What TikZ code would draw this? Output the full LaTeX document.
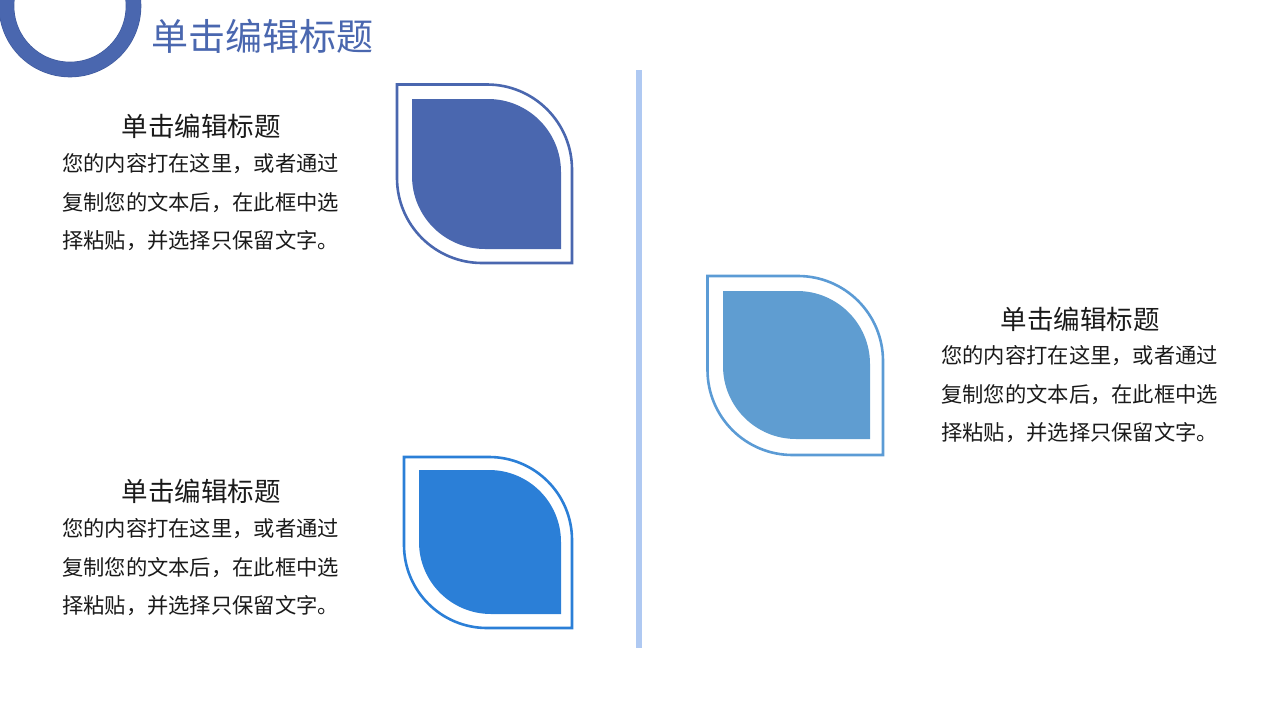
\documentclass[tikz,border=0pt]{standalone}
\usepackage{fontspec}
\setmainfont{Noto Sans CJK SC}
\usepackage{xcolor}
\definecolor{navy}{HTML}{4A67AF}
\definecolor{navyedge}{HTML}{3F5A9C}
\definecolor{steel}{HTML}{5B9BD5}
\definecolor{steelfill}{HTML}{5F9DD1}
\definecolor{azure}{HTML}{2B7FD7}
\definecolor{paleblue}{HTML}{AFC9F2}
\definecolor{ink}{HTML}{1A1A1A}
\tikzset{
  heading/.style={font=\fontsize{26.5}{30}\selectfont,text=ink,inner sep=0pt},
  bodyline/.style={font=\fontsize{21.3}{24}\selectfont,text=ink,inner sep=0pt,anchor=west},
  rim/.style={line width=2.6pt}
}

\begin{document}
\begin{tikzpicture}[x=1pt,y=-1pt]
\useasboundingbox (0,0) rectangle (1280,720);
\clip (0,0) rectangle (1280,720);
% corner ring and title
\draw[navyedge,line width=15.6pt] (70,6) circle[radius=63.5];
\draw[navy,line width=14.4pt] (70,6) circle[radius=63.5];
\node[anchor=west,inner sep=0pt,text=navy,font=\fontsize{37}{40}\selectfont] (maintitle) at (151,36) {单击编辑标题};
% divider
\draw[paleblue,line width=6pt] (639,70) -- (639,648);
% leaf 1
\draw[navy,rim] (397,84.5) -- (487,84.5) arc[start angle=-90,end angle=0,radius=85] -- (572,263) -- (482,263) arc[start angle=90,end angle=180,radius=85] -- cycle;
\fill[navy] (412,99) -- (488,99) arc[start angle=-90,end angle=0,radius=73] -- (561,249) -- (485,249) arc[start angle=90,end angle=180,radius=73] -- cycle;
% leaf 2
\draw[steel,rim] (707.5,276) -- (798,276) arc[start angle=-90,end angle=0,radius=85] -- (883,455) -- (792.5,455) arc[start angle=90,end angle=180,radius=85] -- cycle;
\fill[steelfill] (723,291) -- (797,291) arc[start angle=-90,end angle=0,radius=73] -- (870,439) -- (796,439) arc[start angle=90,end angle=180,radius=73] -- cycle;
% leaf 3
\draw[azure,rim] (404,457) -- (489,457) arc[start angle=-90,end angle=0,radius=83] -- (572,628) -- (487,628) arc[start angle=90,end angle=180,radius=83] -- cycle;
\fill[azure] (419,470) -- (489,470) arc[start angle=-90,end angle=0,radius=72] -- (561,614) -- (491,614) arc[start angle=90,end angle=180,radius=72] -- cycle;
% text blocks
\node[heading] (head1) at (201,126) {单击编辑标题};
\node[bodyline] (body1a) at (62,164) {您的内容打在这里，或者通过};
\node[bodyline] (body1b) at (62,203) {复制您的文本后，在此框中选};
\node[bodyline] (body1c) at (62,241) {择粘贴，并选择只保留文字。};
\node[heading] (head2) at (1080,319) {单击编辑标题};
\node[bodyline] (body2a) at (941,356) {您的内容打在这里，或者通过};
\node[bodyline] (body2b) at (941,395) {复制您的文本后，在此框中选};
\node[bodyline] (body2c) at (941,433) {择粘贴，并选择只保留文字。};
\node[heading] (head3) at (201,491) {单击编辑标题};
\node[bodyline] (body3a) at (62,529) {您的内容打在这里，或者通过};
\node[bodyline] (body3b) at (62,568) {复制您的文本后，在此框中选};
\node[bodyline] (body3c) at (62,606) {择粘贴，并选择只保留文字。};
\end{tikzpicture}
\end{document}
